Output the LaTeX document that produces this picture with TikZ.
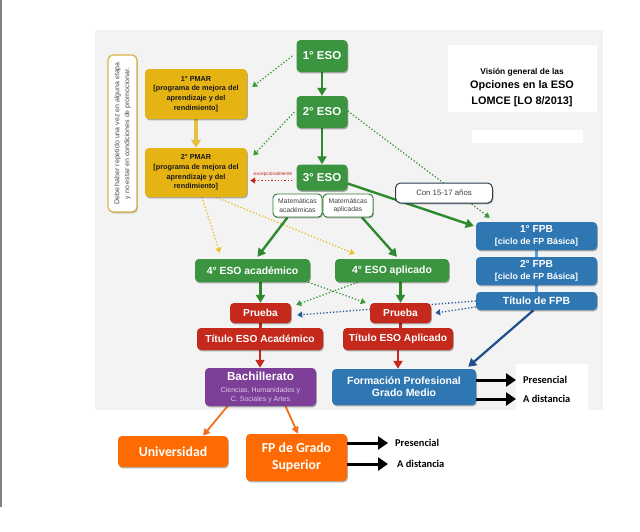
\documentclass[tikz,border=0pt]{standalone}
\usepackage{fontspec}
\setmainfont{Liberation Sans}
\newfontfamily\calib{Carlito}
\usetikzlibrary{arrows.meta,shadows}
\pgfdeclarelayer{bg}
\pgfsetlayers{bg,main}
\definecolor{esogreen}{HTML}{3A9440}
\definecolor{esodark}{HTML}{2E7D32}
\definecolor{arrgreen}{HTML}{2F8A2F}
\definecolor{dotgreen}{HTML}{3A9A3A}
\definecolor{pmaryel}{HTML}{E6B412}
\definecolor{yelarr}{HTML}{E8C040}
\definecolor{dotyel}{HTML}{E8C22A}
\definecolor{prred}{HTML}{C4291C}
\definecolor{fpblue}{HTML}{2F77B3}
\definecolor{bachpur}{HTML}{7D3F98}
\definecolor{subpur}{HTML}{DCCBE6}
\definecolor{orng}{HTML}{FE6B03}
\definecolor{orarr}{HTML}{F07020}
\definecolor{panel}{HTML}{F3F3F3}
\definecolor{dkblue}{HTML}{1F4F8A}
\definecolor{dotblue}{HTML}{2A5C9C}
\definecolor{ltblue}{HTML}{5A9FE0}
\definecolor{notecol}{HTML}{D9B548}
\definecolor{conline}{HTML}{2B3E50}
\newcommand\subpurf{\mdseries\fontsize{7}{9}\selectfont\color{subpur}}
\begin{document}
\begin{tikzpicture}[x=1pt,y=-1pt,
  shd/.style={drop shadow={opacity=0.3,shadow xshift=0.8pt,shadow yshift=-1.3pt,fill=black}},
  base/.style={rounded corners=4pt, inner sep=0pt, align=center, shd},
  esobox/.style={base, fill=esogreen, text=white, font=\bfseries\fontsize{11.5}{14}\selectfont, minimum width=51pt, minimum height=32pt},
  eso4/.style={base, fill=esogreen, text=white, font=\bfseries\fontsize{10.4}{12}\selectfont, minimum width=115pt, minimum height=23pt},
  pmarbox/.style={base, fill=pmaryel, text=black!90, font=\bfseries\fontsize{7.3}{9.6}\selectfont, minimum width=102pt, minimum height=50pt},
  notebox/.style={base, rotate=90, fill=white, draw=notecol, line width=1.3pt, rounded corners=5pt, minimum width=157pt, minimum height=29pt, font=\fontsize{7}{10}\selectfont, text=black!70},
  matbox/.style={base, fill=white, draw=esodark, line width=0.9pt, minimum width=49pt, minimum height=23pt, font=\fontsize{6.8}{8.3}\selectfont, text=black!75},
  conbox/.style={base, fill=white, draw=conline, line width=1pt, rounded corners=5pt, minimum width=97pt, minimum height=20pt, font=\fontsize{7.8}{9}\selectfont, text=black!75},
  redbox/.style={base, fill=prred, text=white, font=\bfseries\fontsize{10.2}{12}\selectfont, minimum height=21pt},
  bluebox/.style={base, fill=fpblue, text=white, font=\bfseries\fontsize{10.4}{12}\selectfont},
  orbox/.style={base, fill=orng, text=white, font=\calib\bfseries\fontsize{13.8}{17}\selectfont},
  lbl/.style={inner sep=0pt, anchor=west, text=black, font=\calib\bfseries\fontsize{10.4}{12}\selectfont},
  garrow/.style={draw=arrgreen, line width=2.4pt, -{Triangle[width=9pt,length=8pt]}},
  gdot/.style={draw=dotgreen, line width=1.3pt, dotted, -{Triangle[width=6pt,length=5pt]}},
  ydot/.style={draw=dotyel, line width=1.3pt, dotted, -{Triangle[width=6pt,length=5pt]}},
  rdot/.style={draw=prred, line width=1.3pt, dotted, -{Triangle[width=6pt,length=5pt]}},
  bdot/.style={draw=dotblue, line width=1.3pt, dotted, -{Triangle[width=6pt,length=5pt]}},
  rarrow/.style={draw=prred, line width=2.4pt, -{Triangle[width=9pt,length=8pt]}},
  oarrow/.style={draw=orarr, line width=1.8pt, -{Triangle[width=7pt,length=7pt]}},
  karrow/.style={draw=black, line width=3pt, -{Triangle[width=13pt,length=10pt]}}
]
\useasboundingbox (0,0) rectangle (640,531);
\begin{pgfonlayer}{bg}
  \fill[white] (0,0) rectangle (640,531);
  \draw[black!50, line width=1.5pt] (0.75,0) -- (0.75,507);
  \fill[panel] (95,30) rectangle (603,410);
  \fill[white] (448,45) rectangle (597,112);
  \fill[white] (472,130) rectangle (583,143);
  \fill[white] (516,364) rectangle (588,410);
\end{pgfonlayer}

% title
\node[align=center, inner sep=0pt, font=\bfseries\fontsize{10.9}{16}\selectfont] (title) at (522,88)
  {{\fontsize{8.4}{10}\selectfont Visión general de las}\\[-2pt]Opciones en la ESO\\LOMCE [LO 8/2013]};

% ESO column
\node[esobox] (eso1) at (322,56) {1° ESO};
\node[esobox] (eso2) at (322,112) {2° ESO};
\node[esobox, minimum height=26pt] (eso3) at (322,177.5) {3° ESO};

% PMAR
\node[pmarbox] (pmar1) at (196,94) {1° PMAR\\{[}programa de mejora del\\aprendizaje y del\\rendimiento{]}};
\node[pmarbox, minimum height=49pt] (pmar2) at (196,172.5) {2° PMAR\\{[}programa de mejora del\\aprendizaje y del\\rendimiento{]}};
\node[notebox] (note) at (122.5,133.5) {Debe haber repetido una vez en alguna etapa\\y no estar en condiciones de promocionar.};
\node[inner sep=0pt, font=\fontsize{4.8}{5}\selectfont, text=prred] (exc) at (273,174) {excepcionalmente};

% Matematicas
\node[matbox] (mata) at (297.5,205.5) {Matemáticas\\académicas};
\node[matbox, minimum width=50pt] (matp) at (348,205.5) {Matemáticas\\aplicadas};
\node[conbox] (con) at (444,193) {Con 15-17 años};

% 4 ESO
\node[eso4] (eso4a) at (252.5,270.5) {4° ESO académico};
\node[eso4, minimum width=114pt] (eso4p) at (392,270.5) {4° ESO aplicado};

% Prueba / Titulo
\node[redbox, minimum width=61pt, minimum height=20pt] (pra) at (260.5,313) {Prueba};
\node[redbox, minimum width=61pt, minimum height=20pt] (prp) at (400.5,313) {Prueba};
\node[redbox, minimum width=126pt, minimum height=22pt] (tita) at (260,339) {Título ESO Académico};
\node[redbox, minimum width=110pt, minimum height=22pt] (titp) at (398,339) {Título ESO Aplicado};

% FPB
\node[bluebox, minimum width=121pt, minimum height=28pt, font=\bfseries\fontsize{8.8}{12}\selectfont] (fpb1) at (536.5,236)
  {{\fontsize{10.2}{12}\selectfont 1° FPB}\\{[}ciclo de FP Básica{]}};
\node[bluebox, minimum width=121pt, minimum height=28pt, font=\bfseries\fontsize{8.8}{12}\selectfont] (fpb2) at (536.5,271)
  {{\fontsize{10.2}{12}\selectfont 2° FPB}\\{[}ciclo de FP Básica{]}};
\node[bluebox, minimum width=121pt, minimum height=18pt] (tfpb) at (536.5,301) {Título de FPB};

% Bachillerato / FP GM
\node[base, fill=bachpur, text=white, font=\bfseries\fontsize{11.7}{9}\selectfont, minimum width=111pt, minimum height=38pt] (bach) at (260.5,387)
  {Bachillerato\\[3pt]{\subpurf Ciencias, Humanidades y}\\{\subpurf C. Sociales y Artes}};
\node[bluebox, minimum width=144pt, minimum height=36pt, font=\bfseries\fontsize{10.5}{12}\selectfont] (fpgm) at (404,387) {Formación Profesional\\Grado Medio};

% bottom
\node[orbox, minimum width=110pt, minimum height=31pt] (univ) at (173,451.5) {Universidad};
\node[orbox, minimum width=101pt, minimum height=47pt] (fpgs) at (296.5,457.5) {FP de Grado\\Superior};

% labels
\node[lbl] (pres1) at (523,380) {Presencial};
\node[lbl] (dist1) at (523,399) {A distancia};
\node[lbl] (pres2) at (395,443) {Presencial};
\node[lbl] (dist2) at (397,464) {A distancia};

% connectors
\begin{pgfonlayer}{bg}
  \draw[garrow] (eso1) -- (eso2);
  \draw[garrow] (eso2) -- (eso3);
  \draw[draw=yelarr, line width=3.5pt, -{Triangle[width=10pt,length=8pt]}] (pmar1) -- (pmar2);
  \draw[gdot] ([xshift=-4pt]eso1.west) -- ([xshift=5pt,yshift=7pt]pmar1.east);
  \draw[gdot] ([xshift=-2pt]eso2.west) -- ([xshift=6pt,yshift=17pt]pmar2.east);
  \draw[rdot] ([xshift=-4pt,yshift=-3pt]eso3.west) -- ([xshift=3pt,yshift=-8pt]pmar2.east);
  \draw[gdot] ([yshift=1pt]eso2.east) -- ([xshift=14pt,yshift=4pt]fpb1.north west);
  \draw[garrow] ([yshift=-6pt]eso3.east) -- ([xshift=-2pt,yshift=10pt]fpb1.west);
  \draw[ydot] ([xshift=6pt]pmar2.south) -- ([xshift=25pt,yshift=6pt]eso4a.north west);
  \draw[ydot] ([xshift=20pt]pmar2.south) -- ([xshift=20pt,yshift=5pt]eso4p.north west);
  \draw[garrow] ([xshift=-10pt]mata.south) -- ([xshift=5pt,yshift=2pt]eso4a.north);
  \draw[garrow] ([xshift=14pt]matp.south) -- ([xshift=5pt,yshift=2pt]eso4p.north);
  \draw[garrow] (pra.north |- eso4a.south) -- (pra.north);
  \draw[garrow] (prp.north |- eso4p.south) -- (prp.north);
  \draw[gdot] ([xshift=-2pt]eso4a.south east) -- ([xshift=-4pt]prp.north west);
  \draw[gdot] ([xshift=23pt]eso4p.south west) -- ([xshift=5pt,yshift=-2pt]pra.north east);
  \draw[bdot] (tfpb.west) -- ([xshift=6pt,yshift=-2pt]pra.east);
  \draw[bdot] ([yshift=-6pt]tfpb.west) -- ([xshift=4pt,yshift=0pt]prp.east);
  \draw[ltblue, line width=2.5pt] (fpb1) -- (fpb2);
  \draw[ltblue, line width=2.5pt] (fpb2) -- (tfpb);
  \draw[prred, line width=2.4pt] (pra) -- (pra |- tita.north);
  \draw[prred, line width=2.4pt] (prp) -- (prp |- titp.north);
  \draw[rarrow] (tita.south) -- (tita.south |- bach.north);
  \draw[rarrow] (titp.south) -- (titp.south |- fpgm.north);
  \draw[draw=dkblue, line width=2.2pt, -{Triangle[width=9pt,length=8pt]}] ([xshift=-3pt]tfpb.south) -- ([xshift=-8pt,yshift=2pt]fpgm.north east);
  \draw[karrow] (fpgm.east |- pres1) -- ([xshift=-7pt]pres1.west);
  \draw[karrow] (fpgm.east |- dist1) -- ([xshift=-7pt]dist1.west);
  \draw[oarrow] ([xshift=-33pt]bach.south) -- ([xshift=30pt]univ.north);
  \draw[oarrow] ([xshift=25pt]bach.south) -- ([xshift=1.5pt]fpgs.north);
  \draw[karrow] (fpgs.east |- pres2) -- ([xshift=-7pt]pres2.west);
  \draw[karrow] (fpgs.east |- dist2) -- ([xshift=-9pt]dist2.west);
\end{pgfonlayer}
\end{tikzpicture}
\end{document}
